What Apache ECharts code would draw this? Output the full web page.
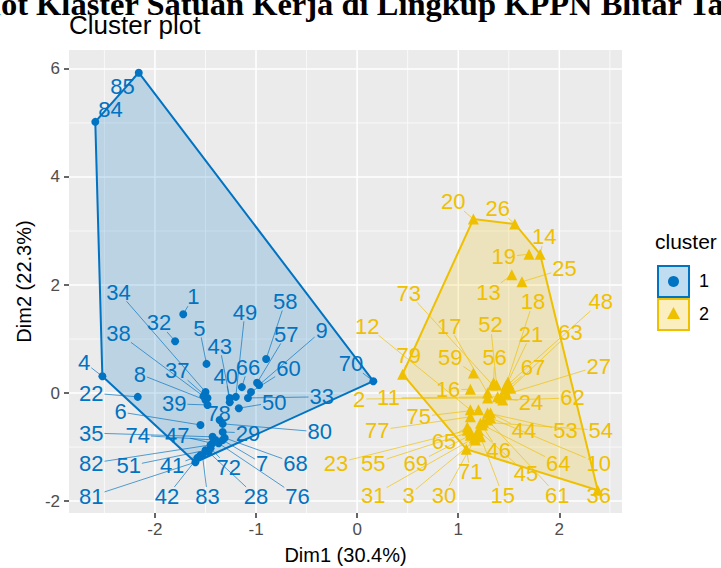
<!DOCTYPE html>
<html><head><meta charset="utf-8">
<script src="https://cdn.jsdelivr.net/npm/echarts@6/dist/echarts.min.js"></script>
<style>html,body{margin:0;padding:0;background:#fff}#c{width:721px;height:568px}</style>
</head><body><div id="c"></div>
<script>
// ---------- data (PCA coordinates) ----------
const ids1 = [1,4,5,6,7,8,9,22,28,29,32,33,34,35,37,38,39,40,41,42,43,47,49,50,51,57,58,60,66,68,70,72,74,76,78,80,81,82,83,84,85];
const dim1_c1 = [-1.72,-2.52,-1.49,-1.55,-1.33,-1.50,-0.97,-2.17,-1.47,-1.33,-1.80,-1.08,-1.50,-1.43,-1.48,-1.52,-1.48,-1.26,-1.55,-1.58,-1.26,-1.43,-1.20,-1.17,-1.50,-0.99,-0.90,-1.05,-1.14,-1.31,0.16,-1.45,-1.40,-1.37,-1.36,-1.33,-1.60,-1.45,-1.53,-2.59,-2.16];
const dim2_c1 = [1.46,0.31,0.54,-0.59,-0.87,-0.13,0.15,-0.07,-1.09,-0.72,0.96,-0.09,0.02,-0.81,-0.09,-0.06,-0.22,-0.17,-1.15,-1.20,-0.09,-0.93,-0.07,-0.28,-1.06,0.19,0.63,0.02,0.11,-0.83,0.22,-1.02,-0.87,-0.93,-0.50,-0.57,-1.28,-0.96,-1.15,5.02,5.93];
// repelled label anchors (data units)
const labX_c1 = [-1.62,-2.70,-1.56,-2.34,-0.94,-2.15,-0.35,-2.63,-1.00,-1.08,-1.96,-0.35,-2.36,-2.63,-1.78,-2.36,-1.81,-1.30,-1.83,-1.88,-1.36,-1.78,-1.11,-0.82,-2.26,-0.70,-0.71,-0.68,-1.08,-0.61,-0.06,-1.27,-2.17,-0.59,-1.37,-0.37,-2.63,-2.63,-1.48,-2.44,-2.32];
const labY_c1 = [1.78,0.57,1.20,-0.35,-1.30,0.35,1.15,0.00,-1.91,-0.74,1.30,-0.07,1.87,-0.74,0.41,1.11,-0.20,0.30,-1.35,-1.91,0.87,-0.78,1.50,-0.17,-1.35,1.09,1.70,0.46,0.48,-1.30,0.54,-1.37,-0.78,-1.91,-0.37,-0.72,-1.91,-1.30,-1.91,5.24,5.67];

const ids2 = [2,3,10,11,12,13,14,15,16,17,18,19,20,21,23,24,25,26,27,30,31,36,44,45,46,48,52,53,54,55,56,59,61,62,63,64,65,67,69,71,73,75,77,79];
const dim1_c2 = [1.29,1.17,1.32,1.39,1.12,1.53,1.81,1.22,1.12,1.29,1.47,1.70,1.15,1.49,1.09,1.42,1.63,1.56,1.48,1.18,1.16,2.38,1.32,1.20,1.22,1.50,1.38,1.29,1.25,1.12,1.35,1.15,1.29,1.44,1.52,1.24,1.09,1.46,1.12,1.08,1.34,1.20,1.12,0.45];
const dim2_c2 = [-0.09,-0.87,-0.46,-0.07,-0.31,2.19,2.57,-0.81,0.07,0.00,0.13,2.57,3.22,0.20,-0.69,-0.09,2.06,3.13,-0.02,-0.80,-0.83,-1.80,-0.37,-0.69,-0.56,0.17,0.15,-0.37,-0.54,-0.72,0.19,0.37,-0.50,-0.13,0.09,-0.59,-0.63,0.06,-0.78,-1.04,0.15,-0.31,-0.44,0.35];
const labX_c2 = [0.02,0.51,2.39,0.31,0.10,1.30,1.85,1.44,0.90,0.91,1.74,1.45,0.95,1.72,-0.21,1.72,2.05,1.39,2.39,0.86,0.16,2.39,1.65,1.67,1.40,2.41,1.32,2.06,2.41,0.16,1.36,0.92,1.98,2.13,2.11,1.99,0.86,1.74,0.58,1.12,0.51,0.61,0.20,0.51];
const labY_c2 = [-0.11,-1.89,-1.30,-0.09,1.24,1.87,2.89,-1.89,0.06,1.24,1.69,2.52,3.54,1.09,-1.30,-0.17,2.30,3.41,0.50,-1.89,-1.89,-1.89,-0.69,-1.48,-1.07,1.69,1.26,-0.69,-0.69,-1.30,0.65,0.65,-1.89,-0.09,1.13,-1.30,-0.89,0.48,-1.30,-1.46,1.85,-0.44,-0.69,0.69];

const xTicks = [-2,-1,0,1,2];
const yTicks = [-2,0,2,4,6];
const xMinor = [-2.5,-1.5,-0.5,0.5,1.5,2.5];
const yMinor = [-1,1,3,5];
const X_MIN = -2.85, X_MAX = 2.62, Y_MIN = -2.22, Y_MAX = 6.35;

// ---------- styles ----------
const C1 = '#0073C2', C2 = '#EFC000';
const FONT = '"Liberation Sans", Arial, sans-serif';
const LAB_FS = 22;

function zip(a,b){ return a.map((v,i)=>[v,b[i]]); }
function convexHull(points){
  const p = points.slice().sort((a,b)=>a[0]-b[0]||a[1]-b[1]);
  const cross=(o,a,b)=>(a[0]-o[0])*(b[1]-o[1])-(a[1]-o[1])*(b[0]-o[0]);
  const lower=[],upper=[];
  for(const q of p){ while(lower.length>=2&&cross(lower[lower.length-2],lower[lower.length-1],q)<=0) lower.pop(); lower.push(q); }
  for(let i=p.length-1;i>=0;i--){ const q=p[i]; while(upper.length>=2&&cross(upper[upper.length-2],upper[upper.length-1],q)<=0) upper.pop(); upper.push(q); }
  upper.pop(); lower.pop(); return lower.concat(upper);
}
const pts1 = zip(dim1_c1, dim2_c1), pts2 = zip(dim1_c2, dim2_c2);
const hull1 = convexHull(pts1), hull2 = convexHull(pts2);
const labItems = [];
ids1.forEach((id,i)=>labItems.push([dim1_c1[i],dim2_c1[i],labX_c1[i],labY_c1[i],id,0]));
ids2.forEach((id,i)=>labItems.push([dim1_c2[i],dim2_c2[i],labX_c2[i],labY_c2[i],id,1]));

const chart = echarts.init(document.getElementById('c'), null, {renderer:'svg', width:721, height:568});

function gridRender(params, api){
  const ch=[];
  const line=(a,b,w)=>ch.push({type:'line',shape:{x1:a[0],y1:a[1],x2:b[0],y2:b[1]},style:{stroke:'#FFFFFF',lineWidth:w}});
  xMinor.forEach(v=>line(api.coord([v,Y_MIN]),api.coord([v,Y_MAX]),0.7));
  yMinor.forEach(v=>line(api.coord([X_MIN,v]),api.coord([X_MAX,v]),0.7));
  xTicks.forEach(v=>line(api.coord([v,Y_MIN]),api.coord([v,Y_MAX]),1.5));
  yTicks.forEach(v=>line(api.coord([X_MIN,v]),api.coord([X_MAX,v]),1.5));
  return {type:'group',children:ch};
}
function hullRender(hull, stroke, fill){
  return function(params, api){
    const pts = hull.map(p=>api.coord(p));
    return {type:'polygon',shape:{points:pts},style:{fill:fill,stroke:stroke,lineWidth:2}};
  };
}
function segRender(params, api){
  const p = api.coord([api.value(0),api.value(1)]);
  const l = api.coord([api.value(2),api.value(3)]);
  const txt = String(api.value(4));
  const col = api.value(5)===0?C1:C2;
  const w = txt.length*LAB_FS*0.556/2+1, h = LAB_FS*0.42;
  const dx=p[0]-l[0], dy=p[1]-l[1];
  if(Math.abs(dx)<=w && Math.abs(dy)<=h) return null;
  const t=Math.min(dx===0?Infinity:w/Math.abs(dx), dy===0?Infinity:h/Math.abs(dy));
  const e=[l[0]+dx*t,l[1]+dy*t];
  const len=Math.hypot(p[0]-e[0],p[1]-e[1]);
  if(len<7) return null;
  return {type:'line',shape:{x1:e[0],y1:e[1],x2:p[0],y2:p[1]},style:{stroke:col,lineWidth:0.9,opacity:0.75}};
}
function textRender(params, api){
  const l = api.coord([api.value(2),api.value(3)]);
  const col = api.value(5)===0?C1:C2;
  return {type:'text',x:l[0],y:l[1],style:{text:String(api.value(4)),fill:col,font:LAB_FS+'px '+FONT,
    align:'center',verticalAlign:'middle',textAlign:'center',textVerticalAlign:'middle'}};
}

const option = {
  animation:false,
  backgroundColor:'#FFFFFF',
  grid:{left:69,right:99,top:50,bottom:55,show:true,backgroundColor:'#EBEBEB',borderWidth:0,
        containLabel:false,outerBoundsMode:'none'},
  xAxis:{type:'value',min:X_MIN,max:X_MAX,position:'bottom',
    axisLine:{show:true,onZero:false,lineStyle:{color:'rgba(0,0,0,0)'}},splitLine:{show:false},
    axisTick:{show:true,inside:false,customValues:xTicks,length:5,lineStyle:{color:'#333333',width:1.5}},
    axisLabel:{customValues:xTicks,color:'#4D4D4D',fontSize:17,margin:8,fontFamily:FONT},
    name:'Dim1 (30.4%)',nameLocation:'middle',nameGap:32,
    nameTextStyle:{fontSize:20,color:'#000000',fontFamily:FONT}},
  yAxis:{type:'value',min:Y_MIN,max:Y_MAX,position:'left',
    axisLine:{show:true,onZero:false,lineStyle:{color:'rgba(0,0,0,0)'}},splitLine:{show:false},
    axisTick:{show:true,inside:false,customValues:yTicks,length:5,lineStyle:{color:'#333333',width:1.5}},
    axisLabel:{customValues:yTicks,color:'#4D4D4D',fontSize:17,margin:9,fontFamily:FONT},
    name:'Dim2 (22.3%)',nameLocation:'middle',nameGap:31,
    nameTextStyle:{fontSize:20,color:'#000000',fontFamily:FONT}},
  graphic:[
    {type:'text',left:-28,top:-13,style:{text:'Plot Klaster Satuan Kerja di Lingkup KPPN Blitar Tahun',fill:'#000',font:'bold 32.5px "Liberation Serif", serif'}},
    {type:'text',left:69,top:12,style:{text:'Cluster plot',fill:'#000',font:'26px '+FONT}},
    {type:'text',left:655,top:231,style:{text:'cluster',fill:'#000',font:'21px '+FONT}},
    {type:'rect',shape:{x:658,y:266,width:31,height:31},style:{fill:'rgba(0,115,194,0.25)',stroke:C1,lineWidth:2}},
    {type:'circle',shape:{cx:673.5,cy:281.5,r:5.5},style:{fill:C1}},
    {type:'text',left:699,top:272,style:{text:'1',fill:'#000',font:'18px '+FONT}},
    {type:'rect',shape:{x:658,y:299,width:31,height:31},style:{fill:'rgba(239,192,0,0.25)',stroke:C2,lineWidth:2}},
    {type:'polygon',shape:{points:[[673.5,307],[680,319],[667,319]]},style:{fill:C2}},
    {type:'text',left:699,top:305,style:{text:'2',fill:'#000',font:'18px '+FONT}}
  ],
  series:[
    {type:'custom',silent:true,z:1,clip:false,data:[[0,0]],renderItem:gridRender},
    {type:'custom',silent:true,z:2,data:[[0,0]],renderItem:hullRender(hull1,C1,'rgba(0,115,194,0.2)')},
    {type:'custom',silent:true,z:2,data:[[0,0]],renderItem:hullRender(hull2,C2,'rgba(239,192,0,0.2)')},
    {type:'scatter',z:3,silent:true,symbol:'circle',symbolSize:8,itemStyle:{color:C1,opacity:1},data:pts1},
    {type:'scatter',z:3,silent:true,symbol:'triangle',symbolSize:11,itemStyle:{color:C2,opacity:1},data:pts2},
    {type:'custom',silent:true,z:4,clip:false,data:labItems,renderItem:segRender},
    {type:'custom',silent:true,z:5,clip:false,data:labItems,renderItem:textRender}
  ]
};
chart.setOption(option);
</script></body></html>
